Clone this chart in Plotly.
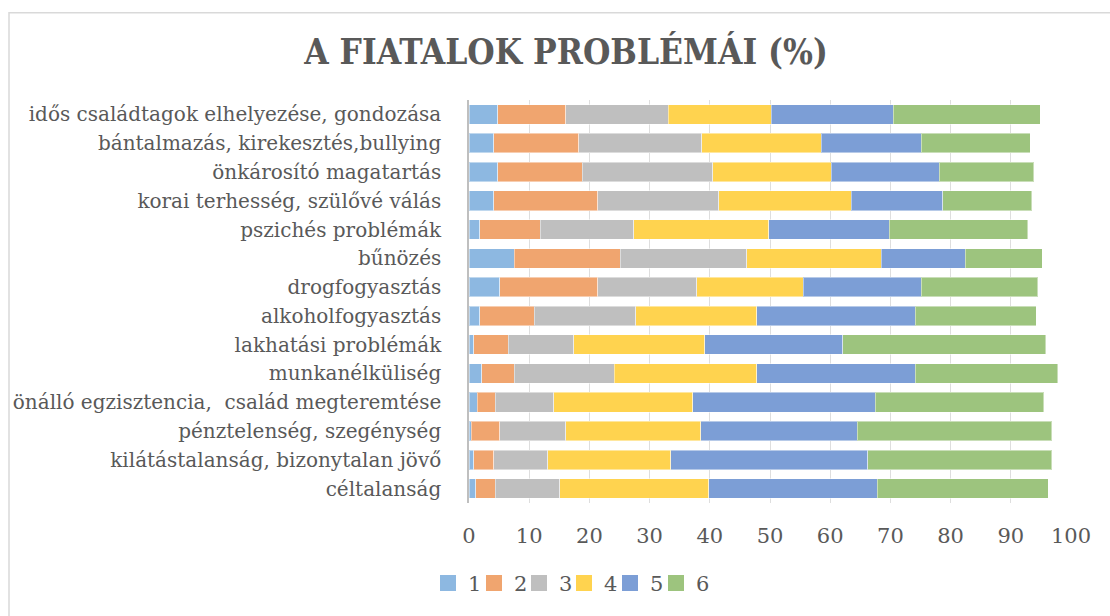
import plotly.graph_objects as go

# Problem areas, listed top to bottom as drawn
categories = [
    "idős családtagok elhelyezése, gondozása",
    "bántalmazás, kirekesztés,bullying",
    "önkárosító magatartás",
    "korai terhesség, szülővé válás",
    "pszichés problémák",
    "bűnözés",
    "drogfogyasztás",
    "alkoholfogyasztás",
    "lakhatási problémák",
    "munkanélküliség",
    "önálló egzisztencia,  család megteremtése",
    "pénztelenség, szegénység",
    "kilátástalanság, bizonytalan jövő",
    "céltalanság",
]

# Share of answers (%) for each rating 1..6
s1 = [4.8, 4.1, 4.8, 4.1, 1.8, 7.5, 5.1, 1.8, 0.8, 2.1, 1.4, 0.4, 0.8, 1.1]
s2 = [11.3, 14.1, 14.0, 17.3, 10.0, 17.6, 16.3, 9.0, 5.7, 5.4, 3.0, 4.7, 3.3, 3.3]
s3 = [17.0, 20.5, 21.7, 20.1, 15.6, 21.0, 16.4, 16.9, 10.9, 16.6, 9.7, 11.0, 9.0, 10.7]
s4 = [17.1, 19.8, 19.7, 22.0, 22.4, 22.4, 17.7, 20.1, 21.8, 23.7, 23.1, 22.4, 20.4, 24.7]
s5 = [20.3, 16.6, 17.9, 15.2, 20.0, 13.9, 19.6, 26.3, 22.9, 26.3, 30.3, 26.0, 32.7, 28.0]
s6 = [24.4, 18.1, 15.7, 14.8, 23.0, 12.8, 19.4, 20.1, 33.7, 23.7, 28.0, 32.3, 30.6, 28.4]

series_names = ["1", "2", "3", "4", "5", "6"]
series_values = [s1, s2, s3, s4, s5, s6]
colors = ["#8DB8E1", "#F0A56F", "#BFBFBF", "#FFD34F", "#7C9ED6", "#9DC47E"]

x_ticks = list(range(0, 101, 10))

TEXT = "#595959"
FONT = "DejaVu Serif"

# plot-area geometry in pixels (used for the outer frame and legend)
W, H = 1110, 616
L, R, T, B = 469, 39, 100, 105
pw, ph = W - L - R, H - T - B

def px_to_paper_x(px):
    return (px - L) / pw

def py_to_paper_y(py):
    return (H - B - py) / ph

# centre of each legend swatch along the bottom row
legend_swatch_px = [447, 493, 538, 583, 629, 675]
legend_ids = ["legend"] + [f"legend{i}" for i in range(2, 7)]

fig = go.Figure()
for name, vals, col, lid in zip(series_names, series_values, colors, legend_ids):
    fig.add_trace(go.Bar(
        y=categories, x=vals, name=name, orientation="h",
        marker=dict(color=col, line=dict(color="rgba(255,255,255,0.45)", width=1)),
        showlegend=False, hoverinfo="x+name",
    ))
    # legend entry with a larger square swatch
    fig.add_trace(go.Scatter(
        x=[None], y=[None], mode="markers", name=name,
        marker=dict(symbol="square", size=16, color=col),
        showlegend=True, legend=lid,
    ))

legend_style = dict(
    orientation="h", xanchor="left", yanchor="top",
    y=py_to_paper_y(572),
    font=dict(size=21, color=TEXT, family=FONT),
    itemwidth=30, bgcolor="rgba(0,0,0,0)",
)
legends = {
    lid: dict(legend_style, x=px_to_paper_x(cx - 19))
    for lid, cx in zip(legend_ids, legend_swatch_px)
}

fig.update_layout(
    width=W, height=H,
    barmode="stack", bargap=0.32,
    paper_bgcolor="white", plot_bgcolor="white",
    margin=dict(l=L, r=R, t=T, b=B),
    font=dict(family=FONT, color=TEXT, size=18),
    title=dict(
        text="<b>A FIATALOK PROBLÉMÁI (%)</b>",
        x=566 / W, xref="container", xanchor="center",
        y=1 - 52 / H, yref="container", yanchor="middle",
        font=dict(family="DejaVu Serif Condensed", size=35, color=TEXT),
    ),
    xaxis=dict(
        range=[0, 100], tickvals=x_ticks, ticktext=[str(v) for v in x_ticks],
        showgrid=True, gridcolor="rgba(0,0,0,0.13)", gridwidth=1,
        zeroline=False, showline=False, ticks="",
        tickfont=dict(size=21, color=TEXT, family=FONT),
        ticklabelstandoff=18, layer="above traces", fixedrange=True,
    ),
    yaxis=dict(
        categoryorder="array", categoryarray=categories, autorange="reversed",
        showgrid=False, zeroline=False,
        showline=True, linecolor="#BFBFBF", linewidth=1.5, ticks="",
        tickfont=dict(size=20, color=TEXT, family=FONT),
        ticklabelstandoff=22, fixedrange=True,
    ),
    shapes=[dict(
        type="rect", xref="paper", yref="paper",
        x0=px_to_paper_x(9), x1=px_to_paper_x(1300),
        y0=py_to_paper_y(11), y1=py_to_paper_y(800),
        line=dict(color="#D9D9D9", width=1.5), fillcolor="rgba(0,0,0,0)",
        layer="below",
    )],
    **legends,
)

fig.write_html("out.html")
